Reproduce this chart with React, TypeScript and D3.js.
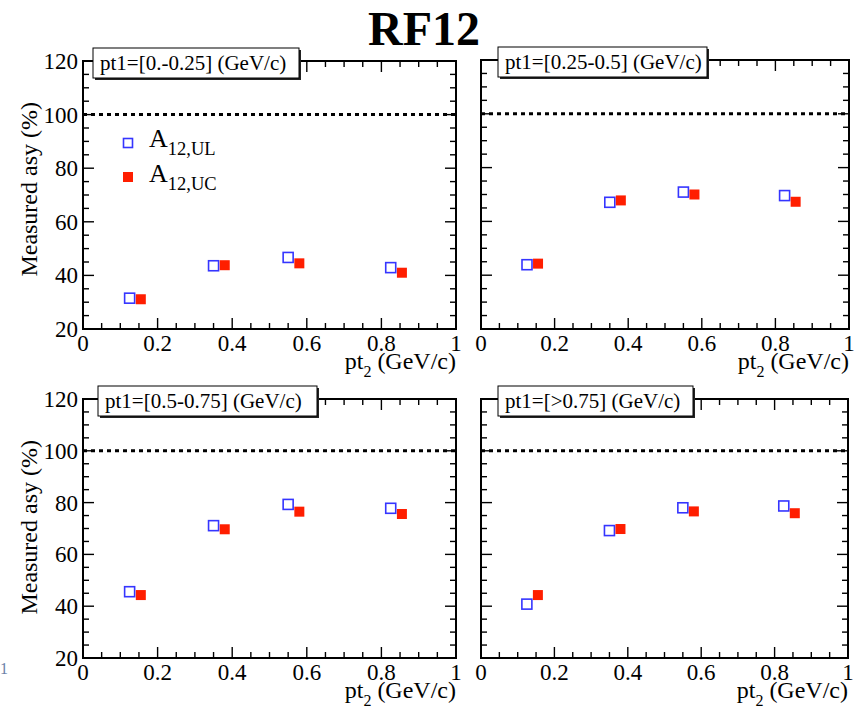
import React from "react";
import * as d3 from "d3";

// pt1 bin of each pad
const panelTitles = [
  "pt1=[0.-0.25] (GeV/c)",
  "pt1=[0.25-0.5] (GeV/c)",
  "pt1=[0.5-0.75] (GeV/c)",
  "pt1=[>0.75] (GeV/c)",
];

// pt2 positions of the two asymmetry series
const ulX = [0.125, 0.35, 0.55, 0.825];
const ucX = [0.155, 0.38, 0.58, 0.855];

// measured asymmetry (%) per pad
const ulValues = [
  [31.5, 43.6, 46.7, 42.9],
  [43.9, 67.1, 70.9, 69.6],
  [45.6, 71.1, 79.3, 77.8],
  [40.8, 69.2, 78.0, 78.7],
];
const ucValues = [
  [31.1, 43.8, 44.5, 41.0],
  [44.3, 67.8, 70.0, 67.3],
  [44.3, 69.7, 76.5, 75.6],
  [44.3, 69.8, 76.6, 75.9],
];

const xTicks = [0, 0.2, 0.4, 0.6, 0.8, 1];
const xTickLabels = ["0", "0.2", "0.4", "0.6", "0.8", "1"];
const yTicks = [20, 40, 60, 80, 100, 120];
const yTickLabels = ["20", "40", "60", "80", "100", "120"];
const referenceLevel = 100;

const W = 857;
const H = 713;
const FONT = "'Liberation Serif', 'Times New Roman', serif";
const BLUE = "#3535ff";
const RED = "#ff1e00";

// pad frames
const frames = [
  { left: 83, top: 61, width: 373, height: 268, boxX: 10, boxW: 206 },
  { left: 481, top: 60, width: 368, height: 269, boxX: 17, boxW: 209 },
  { left: 83, top: 399, width: 373, height: 259, boxX: 15, boxW: 219 },
  { left: 481, top: 399, width: 367, height: 259, boxX: 17, boxW: 195 },
];

function Panel({ idx }: { idx: number }) {
  const f = frames[idx];
  const x = d3.scaleLinear().domain([0, 1]).range([f.left, f.left + f.width]);
  const y = d3.scaleLinear().domain([20, 120]).range([f.top + f.height, f.top]);
  const xMinor = d3.range(0, 1.0001, 0.05);
  const yMinor = d3.range(20, 120.001, 5);
  const bottom = f.top + f.height;
  const right = f.left + f.width;
  const MAJ = 11;
  const MIN = 6;
  const isMajorX = (v: number) => xTicks.some((t) => Math.abs(t - v) < 1e-6);
  const isMajorY = (v: number) => yTicks.some((t) => Math.abs(t - v) < 1e-6);

  return (
    <g>
      {/* ticks on all four sides, pointing inward */}
      {xMinor.map((v, i) => {
        const len = isMajorX(v) ? MAJ : MIN;
        return (
          <g key={"xt" + i} stroke="#000" strokeWidth={1.4}>
            <line x1={x(v)} x2={x(v)} y1={bottom} y2={bottom - len} />
            <line x1={x(v)} x2={x(v)} y1={f.top} y2={f.top + len} />
          </g>
        );
      })}
      {yMinor.map((v, i) => {
        const len = isMajorY(v) ? MAJ : MIN;
        return (
          <g key={"yt" + i} stroke="#000" strokeWidth={1.4}>
            <line x1={f.left} x2={f.left + len} y1={y(v)} y2={y(v)} />
            <line x1={right} x2={right - len} y1={y(v)} y2={y(v)} />
          </g>
        );
      })}
      <rect x={f.left} y={f.top} width={f.width} height={f.height} fill="none" stroke="#000" strokeWidth={2} />

      {/* reference line */}
      <line
        x1={x(0)}
        x2={x(1)}
        y1={y(referenceLevel)}
        y2={y(referenceLevel)}
        stroke="#000"
        strokeWidth={3}
        strokeDasharray="4 4"
      />

      {/* tick labels */}
      {xTicks.map((t, i) => (
        <text key={"xl" + i} x={x(t)} y={bottom + 22} textAnchor="middle" fontSize={23} fontFamily={FONT}>
          {xTickLabels[i]}
        </text>
      ))}
      {idx % 2 === 0 &&
        yTicks.map((t, i) => (
          <text
            key={"yl" + i}
            x={f.left - 5}
            y={y(t)}
            dy="0.35em"
            textAnchor="end"
            fontSize={23}
            fontFamily={FONT}
          >
            {yTickLabels[i]}
          </text>
        ))}

      {/* axis titles */}
      <text x={right} y={bottom + 40} textAnchor="end" fontSize={24} fontFamily={FONT}>
        pt
        <tspan fontSize={16} dy={8}>2</tspan>
        <tspan dy={-8}> (GeV/c)</tspan>
      </text>
      {idx % 2 === 0 && (
        <text
          transform={`translate(37,${f.top + 41}) rotate(-90)`}
          textAnchor="end"
          fontSize={24}
          fontFamily={FONT}
        >
          Measured asy (%)
        </text>
      )}

      {/* data */}
      {ulX.map((xv, i) => (
        <rect
          key={"ul" + i}
          x={x(xv) - 5}
          y={y(ulValues[idx][i]) - 5}
          width={10}
          height={10}
          fill="none"
          stroke={BLUE}
          strokeWidth={1.6}
        />
      ))}
      {ucX.map((xv, i) => (
        <rect key={"uc" + i} x={x(xv) - 5} y={y(ucValues[idx][i]) - 5} width={10} height={10} fill={RED} />
      ))}

      {/* pad label */}
      <rect x={f.left + f.boxX + 2} y={f.top - 11} width={f.boxW} height={30} fill="#222" />
      <rect
        x={f.left + f.boxX}
        y={f.top - 13}
        width={f.boxW}
        height={30}
        fill="#fff"
        stroke="#000"
        strokeWidth={1}
      />
      <text x={f.left + f.boxX + 7} y={f.top + 9} fontSize={21} fontFamily={FONT}>
        {panelTitles[idx]}
      </text>
    </g>
  );
}

export default function App() {
  return (
    <svg
      width={W}
      height={H}
      viewBox={`0 0 ${W} ${H}`}
      style={{ position: "absolute", left: 0, top: 0, background: "#fff" }}
    >
      <rect width={W} height={H} fill="#fff" />
      <text x={424} y={45} textAnchor="middle" fontSize={48} fontWeight="bold" fontFamily={FONT}>
        RF12
      </text>
      {frames.map((_, i) => (
        <Panel key={i} idx={i} />
      ))}

      {/* legend */}
      <rect x={123.5} y={138.5} width={9} height={9} fill="none" stroke={BLUE} strokeWidth={1.6} />
      <text x={149} y={147} fontSize={26} fontFamily={FONT}>
        A<tspan fontSize={18.5} dy={8}>12,UL</tspan>
      </text>
      <rect x={123} y={172} width={10} height={10} fill={RED} />
      <text x={149} y={182} fontSize={26} fontFamily={FONT}>
        A<tspan fontSize={18.5} dy={8}>12,UC</tspan>
      </text>

      <text x={0} y={674} fontSize={16} fill="#6a7fa8" fontFamily={FONT}>
        1
      </text>
    </svg>
  );
}
